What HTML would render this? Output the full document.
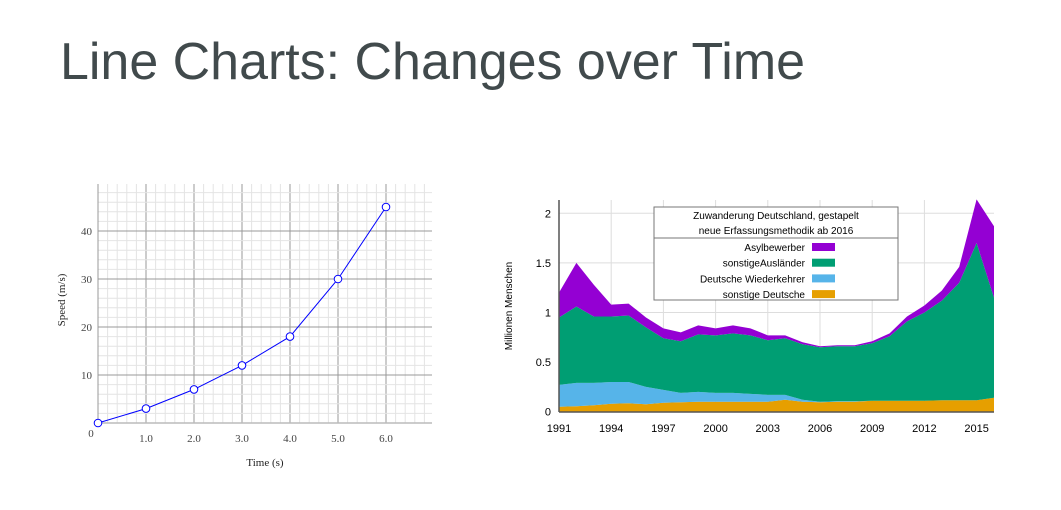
<!DOCTYPE html>
<html><head><meta charset="utf-8"><style>
body{margin:0;background:#fff;width:1061px;height:510px;overflow:hidden}
svg{display:block;font-family:"Liberation Sans",sans-serif}
</style></head><body>
<svg id="s" width="1061" height="510">
<text x="60" y="79" font-size="52" fill="#414a4c" textLength="745" lengthAdjust="spacingAndGlyphs">Line Charts: Changes over Time</text>
<g id="left"></g>
<g id="right"></g>
</svg>
<script>
// Left chart data
const times=[0,1,2,3,4,5,6];
const speeds=[0,3,7,12,18,30,45];
const xTicks=["1.0","2.0","3.0","4.0","5.0","6.0"];
const yTicks=[10,20,30,40];
// Right chart data
const years=[1991,1992,1993,1994,1995,1996,1997,1998,1999,2000,2001,2002,2003,2004,2005,2006,2007,2008,2009,2010,2011,2012,2013,2014,2015,2016];
const sonstigeDeutsche=[0.05,0.055,0.065,0.08,0.085,0.075,0.09,0.095,0.10,0.10,0.10,0.10,0.10,0.12,0.10,0.095,0.10,0.10,0.11,0.11,0.11,0.11,0.115,0.115,0.115,0.14];
const wiederkehrer=[0.22,0.235,0.225,0.22,0.215,0.175,0.13,0.095,0.10,0.09,0.09,0.08,0.07,0.05,0.02,0.005,0.005,0.005,0,0,0,0,0,0,0,0];
const auslaender=[0.68,0.77,0.67,0.66,0.67,0.60,0.52,0.52,0.58,0.58,0.60,0.59,0.55,0.57,0.56,0.55,0.555,0.555,0.58,0.65,0.80,0.89,1.005,1.185,1.585,1.01];
const asyl=[0.25,0.44,0.32,0.12,0.12,0.10,0.10,0.09,0.09,0.07,0.08,0.07,0.05,0.03,0.02,0.01,0.01,0.01,0.02,0.03,0.05,0.07,0.10,0.16,0.44,0.72];
const yearTicks=[1991,1994,1997,2000,2003,2006,2009,2012,2015];
const valTicks=[0,0.5,1,1.5,2];
const legendLabels=["Asylbewerber","sonstigeAusländer","Deutsche Wiederkehrer","sonstige Deutsche"];

const NS="http://www.w3.org/2000/svg";
function mk(p,t,a,txt){const e=document.createElementNS(NS,t);for(const k in a)e.setAttribute(k,a[k]);if(txt!==undefined)e.textContent=txt;p.appendChild(e);return e;}

// LEFT
const L=document.getElementById('left');
const lx=v=>98+v*48, ly=v=>423-v*4.8;
for(let i=0;i<=34;i++){const x=98+i*9.6;if(x>432)break;
 const g=mk(L,'line',{x1:x,y1:184,x2:x,y2:423,stroke:i%5==0?'#999':'#e4e4e4','stroke-width':1});
 }
for(let i=0;i<=25;i++){const y=423-i*9.6;if(y<184)break;
 const g=mk(L,'line',{x1:98,y1:y,x2:432,y2:y,stroke:i%5==0?'#999':'#e4e4e4','stroke-width':1});
 }
let ax=mk(L,'line',{x1:98,y1:184,x2:98,y2:423,stroke:'#999'});

ax=mk(L,'line',{x1:98,y1:423,x2:432,y2:423,stroke:'#bbb','stroke-width':1.5});

xTicks.forEach((t,i)=>{const e=mk(L,'text',{x:lx(parseFloat(t)),y:442,'font-size':11,'text-anchor':'middle',fill:'#444','font-family':'Liberation Serif'},t);
 });
yTicks.forEach(t=>{const e=mk(L,'text',{x:92,y:ly(t)+4,'font-size':11,'text-anchor':'end',fill:'#444','font-family':'Liberation Serif'},t);
 });
let z=mk(L,'text',{x:91,y:437,'font-size':11,'text-anchor':'middle',fill:'#444','font-family':'Liberation Serif'},'0');

z=mk(L,'text',{x:265,y:466,'font-size':11,'text-anchor':'middle',fill:'#222','font-family':'Liberation Serif'},'Time (s)');

z=mk(L,'text',{x:0,y:0,'font-size':11,'text-anchor':'middle',fill:'#222','font-family':'Liberation Serif',transform:'translate(65,300) rotate(-90)'},'Speed (m/s)');

z=mk(L,'polyline',{points:times.map((t,i)=>lx(t)+','+ly(speeds[i])).join(' '),fill:'none',stroke:'#0000ff','stroke-width':1});

times.forEach((t,i)=>{const c=mk(L,'circle',{cx:lx(t),cy:ly(speeds[i]),r:3.8,fill:'#fff',stroke:'#0000ff','stroke-width':1});
 });

// RIGHT
const R=document.getElementById('right');
const rx=y=>559+(y-1991)*17.4, ry=v=>411.7-v*99.2;
yearTicks.forEach(y=>{const g=mk(R,'line',{x1:rx(y),y1:200,x2:rx(y),y2:412,stroke:'#ddd'});
 });
valTicks.forEach(v=>{const g=mk(R,'line',{x1:559,y1:ry(v),x2:994,y2:ry(v),stroke:'#ddd'});
 });
const layers=[[sonstigeDeutsche,'#e69f00','layer-sonstige-deutsche'],[wiederkehrer,'#56b4e9','layer-deutsche-wiederkehrer'],[auslaender,'#009e73','layer-sonstige-auslaender'],[asyl,'#9400d3','layer-asylbewerber']];
let base=years.map(()=>0);
layers.forEach(([vals,col,nm])=>{const top=base.map((b,i)=>b+vals[i]);
 let pts=years.map((y,i)=>rx(y)+','+ry(top[i]));
 for(let i=years.length-1;i>=0;i--)pts.push(rx(years[i])+','+ry(base[i]));
 const p=mk(R,'polygon',{points:pts.join(' '),fill:col});
 
 base=top;});
ax=mk(R,'line',{x1:559,y1:200,x2:559,y2:412,stroke:'#555','stroke-width':1.5});

ax=mk(R,'line',{x1:559,y1:412,x2:994,y2:412,stroke:'#555','stroke-width':1.5});

yearTicks.forEach(y=>{const e=mk(R,'text',{x:rx(y),y:432,'font-size':11,'text-anchor':'middle',fill:'#000'},y);
 });
valTicks.forEach(v=>{const e=mk(R,'text',{x:551,y:ry(v)+4,'font-size':11,'text-anchor':'end',fill:'#000'},v);
 });
z=mk(R,'text',{x:0,y:0,'font-size':10,'text-anchor':'middle',fill:'#000',transform:'translate(512,306) rotate(-90)'},'Millionen Menschen');

// legend
const lg=mk(R,'g',{});
mk(lg,'rect',{x:654,y:207,width:244,height:93,fill:'#fff',stroke:'#777'});
mk(lg,'line',{x1:654,y1:238,x2:898,y2:238,stroke:'#777'});
z=mk(lg,'text',{x:776,y:219,'font-size':10,'text-anchor':'middle'},'Zuwanderung Deutschland, gestapelt');

z=mk(lg,'text',{x:776,y:234,'font-size':10,'text-anchor':'middle'},'neue Erfassungsmethodik ab 2016');

const lcols=['#9400d3','#009e73','#56b4e9','#e69f00'];
legendLabels.forEach((t,i)=>{const y=247+i*15.7;
 const e=mk(lg,'text',{x:805,y:y+4,'font-size':10,'text-anchor':'end'},t);
 
 const r=mk(lg,'rect',{x:812,y:y-4,width:23,height:8,fill:lcols[i]});
 });
</script>
</body></html>
